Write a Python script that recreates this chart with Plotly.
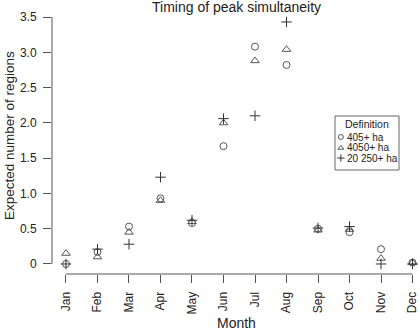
import plotly.graph_objects as go

months = ["Jan", "Feb", "Mar", "Apr", "May", "Jun", "Jul", "Aug", "Sep", "Oct", "Nov", "Dec"]
ha405 = [0.00, 0.17, 0.53, 0.93, 0.58, 1.67, 3.08, 2.82, 0.50, 0.45, 0.21, 0.02]
ha4050 = [0.15, 0.10, 0.45, 0.90, 0.60, 2.00, 2.88, 3.04, 0.48, 0.49, 0.08, 0.02]
ha20250 = [0.00, 0.21, 0.28, 1.23, 0.62, 2.06, 2.10, 3.43, 0.51, 0.53, 0.00, 0.00]
series_names = ["405+ ha", "4050+ ha", "20 250+ ha"]
ytick_vals = [0, 0.5, 1.0, 1.5, 2.0, 2.5, 3.0, 3.5]
ytick_text = ["0", "0.5", "1.0", "1.5", "2.0", "2.5", "3.0", "3.5"]

x = list(range(len(months)))
gray = "#555555"
txt = "#222222"
font = "Liberation Sans, Arial, sans-serif"

symbols = ["circle-open", "triangle-up-open", "cross-thin-open"]
sizes = [7, 7.5, 7.5]
colors = [gray, gray, "#333333"]

fig = go.Figure()
for vals, name, sym, sz, col in zip([ha405, ha4050, ha20250], series_names, symbols, sizes, colors):
    fig.add_trace(go.Scatter(x=x, y=vals, mode="markers", name=name, showlegend=False,
                             marker=dict(symbol=sym, size=sz, color=col, line=dict(width=1, color=col))))

# Key (legend) drawn in an overlay frame spanning the plot area, 0..1 in both directions
leg_rows = [0.515, 0.474, 0.436]
for name, sym, sz, col, ry in zip(series_names, symbols, sizes, colors, leg_rows):
    fig.add_trace(go.Scatter(x=[0.785], y=[ry], xaxis="x2", yaxis="y2", mode="markers",
                             showlegend=False, hoverinfo="skip",
                             marker=dict(symbol=sym, size=sz * 0.7, color=col, line=dict(width=1, color=col))))
    fig.add_annotation(text=name, xref="paper", yref="paper", x=0.796, y=ry,
                       xanchor="left", yanchor="middle", showarrow=False,
                       font=dict(size=10, color=txt))
fig.add_annotation(text="Definition", xref="paper", yref="paper", x=0.856, y=0.564,
                   xanchor="center", yanchor="middle", showarrow=False,
                   font=dict(size=10.5, color=txt))
fig.add_shape(type="rect", xref="paper", yref="paper", x0=0.769, x1=0.943, y0=0.391, y1=0.594,
              line=dict(color="#666666", width=1), fillcolor="white", layer="below")

# R-style detached axis lines
fig.add_shape(type="line", xref="paper", yref="y", x0=0, x1=0, y0=0, y1=3.5,
              line=dict(color=gray, width=1))
fig.add_shape(type="line", xref="x", yref="paper", x0=0, x1=11, y0=0, y1=0,
              line=dict(color=gray, width=1))

# Titles
fig.add_annotation(text="Timing of peak simultaneity", xref="paper", yref="paper", x=0.5, y=1.004,
                   xanchor="center", yanchor="middle", showarrow=False, font=dict(size=14, color=txt))
fig.add_annotation(text="Month", xref="paper", yref="paper", x=0.5, y=-0.184,
                   xanchor="center", yanchor="middle", showarrow=False, font=dict(size=14, color=txt))
fig.add_annotation(text="Expected number of regions", xref="paper", yref="paper", x=-0.114, y=0.519,
                   xanchor="center", yanchor="middle", textangle=-90, showarrow=False,
                   font=dict(size=13.5, color=txt))

fig.update_layout(
    width=420, height=332,
    margin=dict(l=52, r=0, t=8, b=58),
    paper_bgcolor="white", plot_bgcolor="white",
    font=dict(family=font, size=12, color=txt),
    hovermode=False,
    xaxis=dict(range=[-0.444, 11.238], tickvals=x, ticktext=months, tickangle=-90,
               showgrid=False, zeroline=False, showline=False,
               ticks="outside", ticklen=8, tickcolor=gray, tickfont=dict(size=12),
               ticklabelstandoff=4),
    yaxis=dict(range=[-0.142, 3.628], tickvals=ytick_vals, ticktext=ytick_text,
               showgrid=False, zeroline=False, showline=False,
               ticks="outside", ticklen=8, tickcolor=gray, tickfont=dict(size=12),
               ticklabelstandoff=4),
    xaxis2=dict(overlaying="x", range=[0, 1], visible=False),
    yaxis2=dict(overlaying="y", range=[0, 1], visible=False),
)

fig.write_html("out.html", config={"displayModeBar": False},
               post_script="document.body.style.margin='0';")
